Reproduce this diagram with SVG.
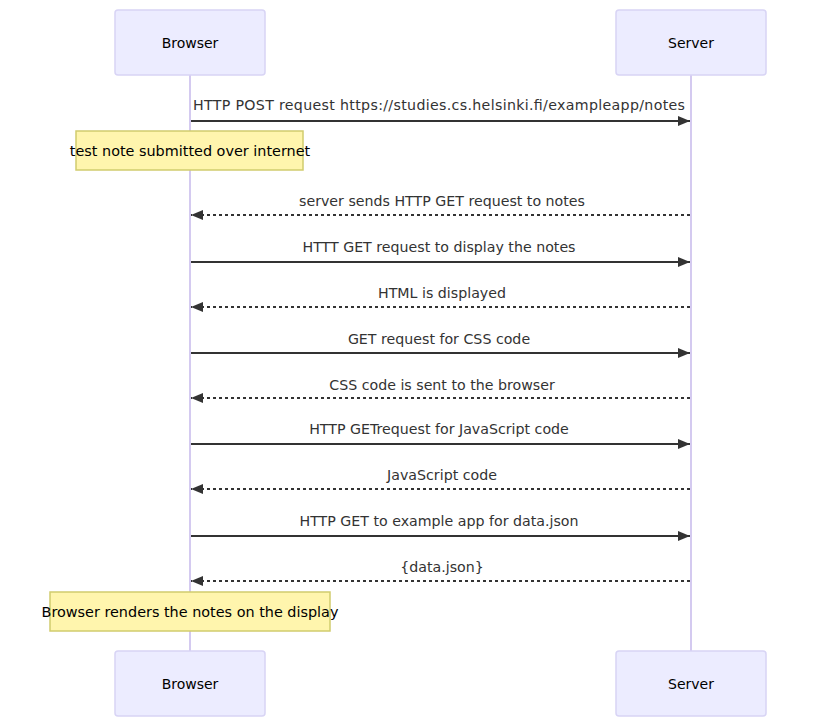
<svg xmlns="http://www.w3.org/2000/svg" width="816" height="727" viewBox="0 0 816 727">
  <style>
    .actor { fill: #ECECFF; stroke: #D8D4F5; stroke-width: 1.5; }
    .actor-label { font-family: "DejaVu Sans", Verdana, sans-serif; font-size: 14px; fill: #000; text-anchor: middle; dominant-baseline: central; }
    .lifeline { stroke: #D4CAF0; stroke-width: 2; }
    .msg { stroke: #333; stroke-width: 2; fill: none; }
    .reply { stroke: #333; stroke-width: 2; fill: none; stroke-dasharray: 3 3; }
    .msg-label { font-family: "DejaVu Sans", Verdana, sans-serif; font-size: 14.2px; fill: #333; text-anchor: middle; dominant-baseline: central; }
    .note { fill: #FFF5AD; stroke: #D1CC6E; stroke-width: 1.5; }
    .note-label { font-family: "DejaVu Sans", Verdana, sans-serif; font-size: 14.4px; fill: #000; text-anchor: middle; dominant-baseline: central; }
  </style>
  <defs>
    <marker id="arrowhead" viewBox="0 0 12 10" refX="12" refY="5" markerUnits="userSpaceOnUse" markerWidth="12" markerHeight="10" orient="auto">
      <path d="M0,0 L12,5 L0,10 z" fill="#333"/>
    </marker>
  </defs>

  <!-- lifelines -->
  <g id="lifelines">
    <line class="lifeline" x1="190" y1="75" x2="190" y2="651"/>
    <line class="lifeline" x1="691" y1="75" x2="691" y2="651"/>
  </g>

  <!-- participants -->
  <g id="browser-top">
    <rect class="actor" x="115" y="10" width="150" height="65" rx="3"/>
    <text class="actor-label" x="190" y="43">Browser</text>
  </g>
  <g id="server-top">
    <rect class="actor" x="616" y="10" width="150" height="65" rx="3"/>
    <text class="actor-label" x="691" y="43">Server</text>
  </g>
  <g id="browser-bottom">
    <rect class="actor" x="115" y="651" width="150" height="65" rx="3"/>
    <text class="actor-label" x="190" y="684">Browser</text>
  </g>
  <g id="server-bottom">
    <rect class="actor" x="616" y="651" width="150" height="65" rx="3"/>
    <text class="actor-label" x="691" y="684">Server</text>
  </g>

  <!-- notes -->
  <g id="note-submitted">
    <rect class="note" x="76" y="131" width="227" height="39"/>
    <text class="note-label" x="190" y="151">test note submitted over internet</text>
  </g>
  <g id="note-render">
    <rect class="note" x="50" y="592" width="280" height="39"/>
    <text class="note-label" x="190" y="612">Browser renders the notes on the display</text>
  </g>

  <!-- messages -->
  <g id="connectors">
    <line class="msg" x1="191" y1="121" x2="690" y2="121" marker-end="url(#arrowhead)"/>
    <text class="msg-label" x="439" y="105" textLength="492" lengthAdjust="spacing">HTTP POST request https://studies.cs.helsinki.fi/exampleapp/notes</text>

    <line class="reply" x1="690" y1="215" x2="191" y2="215" marker-end="url(#arrowhead)"/>
    <text class="msg-label" x="442" y="201">server sends HTTP GET request to notes</text>

    <line class="msg" x1="191" y1="262" x2="690" y2="262" marker-end="url(#arrowhead)"/>
    <text class="msg-label" x="439" y="247">HTTT GET request to display the notes</text>

    <line class="reply" x1="690" y1="307" x2="191" y2="307" marker-end="url(#arrowhead)"/>
    <text class="msg-label" x="442" y="293">HTML is displayed</text>

    <line class="msg" x1="191" y1="353" x2="690" y2="353" marker-end="url(#arrowhead)"/>
    <text class="msg-label" x="439" y="339">GET request for CSS code</text>

    <line class="reply" x1="690" y1="398" x2="191" y2="398" marker-end="url(#arrowhead)"/>
    <text class="msg-label" x="442" y="385">CSS code is sent to the browser</text>

    <line class="msg" x1="191" y1="444" x2="690" y2="444" marker-end="url(#arrowhead)"/>
    <text class="msg-label" x="439" y="429">HTTP GETrequest for JavaScript code</text>

    <line class="reply" x1="690" y1="489" x2="191" y2="489" marker-end="url(#arrowhead)"/>
    <text class="msg-label" x="442" y="475">JavaScript code</text>

    <line class="msg" x1="191" y1="536" x2="690" y2="536" marker-end="url(#arrowhead)"/>
    <text class="msg-label" x="439" y="521">HTTP GET to example app for data.json</text>

    <line class="reply" x1="690" y1="581" x2="191" y2="581" marker-end="url(#arrowhead)"/>
    <text class="msg-label" x="442" y="567">{data.json}</text>
  </g>
</svg>
